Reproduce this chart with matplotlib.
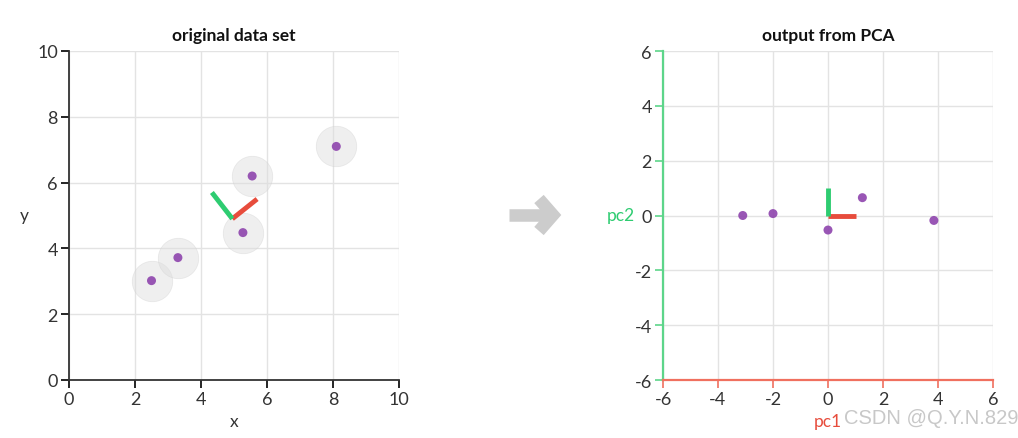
import matplotlib.pyplot as plt
from matplotlib.lines import Line2D

plt.rcParams['font.family'] = ['Lato', 'DejaVu Sans']
plt.rcParams['axes.unicode_minus'] = False

# original data
x_orig = [2.5, 3.3, 5.27, 5.55, 8.1]
y_orig = [3.02, 3.72, 4.48, 6.2, 7.1]
# principal directions drawn from the mean
center = [4.95, 4.9]
pc1_end = [5.7, 5.5]
pc2_end = [4.33, 5.7]

# after PCA
pc1_vals = [-3.1, -2.0, 0.0, 1.25, 3.85]
pc2_vals = [0.0, 0.07, -0.53, 0.65, -0.18]
axis_len = 1.0

purple = '#8e44ad'
green = '#2ecc71'
red = '#e74c3c'
txt = '#333333'

fig = plt.figure(figsize=(10.18, 4.39), dpi=100)
ax1 = fig.add_axes([69/1018, 1-381/439, 330/1018, 329/439])
ax2 = fig.add_axes([663/1018, 1-381/439, 330/1018, 329/439])

# left panel
ax1.scatter(x_orig, y_orig, s=850, color='#dddddd', alpha=0.45, edgecolors='#d0d0d0', linewidths=0.5, zorder=2)
ax1.scatter(x_orig, y_orig, s=42, color=purple, alpha=0.9, zorder=3, edgecolors='none')
ax1.plot([center[0], pc1_end[0]], [center[1], pc1_end[1]], color=red, lw=3.5, zorder=4, solid_capstyle='butt')
ax1.plot([center[0], pc2_end[0]], [center[1], pc2_end[1]], color=green, lw=3.5, zorder=4, solid_capstyle='butt')
ax1.set_xlim(0, 10)
ax1.set_ylim(0, 10)
ax1.set_xticks([0, 2, 4, 6, 8, 10])
ax1.set_yticks([0, 2, 4, 6, 8, 10])
ax1.set_title('original data set', fontsize=12.5, fontweight='bold', color='#111111', pad=8)
ax1.set_xlabel('x', fontsize=12.5, color=txt, labelpad=4)
ax1.set_ylabel('y', fontsize=12.5, color=txt, rotation=0, labelpad=9, va='center')
for s in ['top', 'right']:
    ax1.spines[s].set_visible(False)
for s in ['left', 'bottom']:
    ax1.spines[s].set_color(txt)
    ax1.spines[s].set_linewidth(1.3)

# right panel
ax2.scatter(pc1_vals, pc2_vals, s=42, color=purple, alpha=0.9, zorder=3, edgecolors='none')
ax2.plot([0, axis_len], [0, 0], color=red, lw=3.5, zorder=4, solid_capstyle='butt')
ax2.plot([0, 0], [0, axis_len], color=green, lw=3.5, zorder=4, solid_capstyle='butt')
ax2.set_xlim(-6, 6)
ax2.set_ylim(-6, 6)
ax2.set_xticks([-6, -4, -2, 0, 2, 4, 6])
ax2.set_yticks([-6, -4, -2, 0, 2, 4, 6])
ax2.set_title('output from PCA', fontsize=12.5, fontweight='bold', color='#111111', pad=8)
ax2.set_xlabel('pc1', fontsize=12.5, color=red, labelpad=4)
ax2.set_ylabel('pc2', fontsize=12.5, color=green, rotation=0, labelpad=10, va='center')
for s in ['top', 'right']:
    ax2.spines[s].set_visible(False)
ax2.spines['left'].set_color('#5dd58a')
ax2.spines['left'].set_linewidth(1.6)
ax2.spines['bottom'].set_color('#f0705f')
ax2.spines['bottom'].set_linewidth(1.6)
ax2.tick_params(axis='x', colors='#f0705f', labelcolor=txt)
ax2.tick_params(axis='y', colors='#5dd58a', labelcolor=txt)

for ax in (ax1, ax2):
    ax.grid(True, color='#e3e3e3', lw=1)
    ax.set_axisbelow(True)
    ax.tick_params(labelsize=13, length=6, width=1.2, pad=2)
    for lab in ax.get_xticklabels() + ax.get_yticklabels():
        lab.set_color(txt)

# arrow between panels
W, H = 1018, 439
fig.add_artist(Line2D([509/W, 546/W], [1-216/H, 1-216/H], color='#cccccc', lw=9, solid_capstyle='butt'))
fig.add_artist(Line2D([539/W, 553/W, 539/W], [1-200/H, 1-216/H, 1-232/H], color='#cccccc', lw=9,
                      solid_joinstyle='miter', solid_capstyle='butt'))

fig.text(1.0, 0.025, 'CSDN @Q.Y.N.829', ha='right', va='bottom', fontsize=14.5, color='#c8c8c8',
         family=['Liberation Sans', 'DejaVu Sans'])

fig.savefig('out.png', dpi=100)
